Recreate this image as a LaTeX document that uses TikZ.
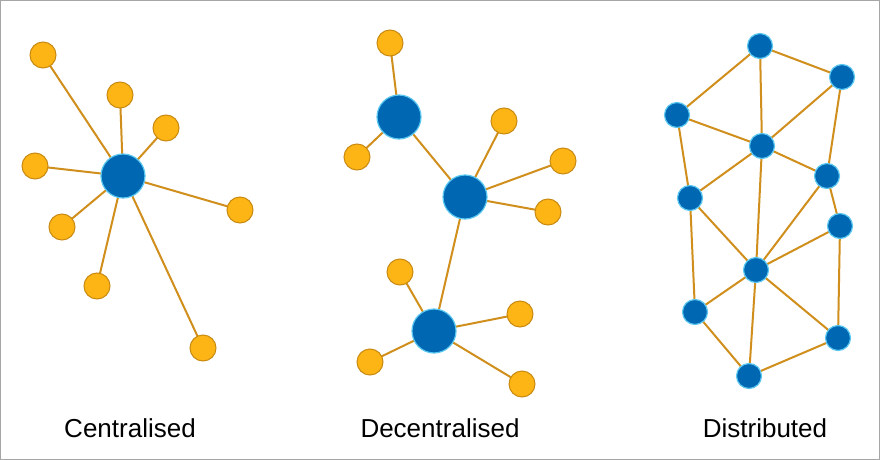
\documentclass[tikz,border=0pt]{standalone}
\usepackage{fontspec}
\setmainfont{Liberation Sans}
\definecolor{leaforange}{HTML}{FDB515}
\definecolor{leafedge}{HTML}{C98A12}
\definecolor{hubblue}{HTML}{0068B3}
\definecolor{hubedge}{HTML}{5CC8F2}
\definecolor{linkline}{HTML}{D08F1C}
\tikzset{
  leaf/.style={circle, fill=leaforange, draw=leafedge, line width=1pt, minimum size=26pt, inner sep=0pt},
  hub/.style={circle, fill=hubblue, draw=hubedge, line width=1.2pt, minimum size=44pt, inner sep=0pt},
  peer/.style={circle, fill=hubblue, draw=hubedge, line width=1.2pt, minimum size=25pt, inner sep=0pt},
  link/.style={draw=linkline, line width=2pt},
  caption/.style={font=\fontsize{26}{30}\selectfont}
}
\begin{document}
\begin{tikzpicture}[x=1pt,y=-1pt]
    \draw[gray!70, fill=white, line width=1pt] (0.5,0.5) rectangle (879.5,459.5);
    % centralised
    \coordinate (c0) at (123,176);
    \foreach \n/\x/\y in {1/43/55, 2/120/95, 3/166/128, 4/35/166, 5/240/210, 6/62/227, 7/97/286, 8/203/348} {
      \coordinate (c\n) at (\x,\y);
      \draw[link] (c0) -- (c\n);
      \node[leaf] at (c\n) {};
    }
    \node[hub] (hub) at (c0) {};
    % decentralised
    \coordinate (d1) at (399,117);
    \coordinate (d2) at (465,197);
    \coordinate (d3) at (434,331);
    \draw[link] (d1) -- (d2) -- (d3);
    \foreach \h/\n/\x/\y in {d1/1/390/43, d1/2/357/157, d2/3/504/121, d2/4/563/161, d2/5/548/212,
      d3/6/400/272, d3/7/520/314, d3/8/370/362, d3/9/522/384} {
      \coordinate (l\n) at (\x,\y);
      \draw[link] (\h) -- (l\n);
      \node[leaf] at (l\n) {};
    }
    \foreach \h in {d1,d2,d3} { \node[hub] at (\h) {}; }
    % distributed
    \foreach \p/\x/\y in {pa/760/46, pb/842/77, pc/677/115, pd/762/146, pe/827/176, pf/690/198,
      pg/840/226, ph/756/270, pi/695/312, pj/838/338, pk/749/376} {
      \coordinate (\p) at (\x,\y);
    }
    \foreach \a/\b in {pa/pb, pa/pc, pa/pd, pb/pd, pb/pe, pc/pd, pc/pf, pd/pf, pd/pe, pd/ph,
      pe/pg, pe/ph, pf/ph, pf/pi, pg/ph, pg/pj, ph/pi, ph/pj, ph/pk, pi/pk, pj/pk} {
      \draw[link] (\a) -- (\b);
    }
    \foreach \p in {pa,pb,pc,pd,pe,pf,pg,ph,pi,pj,pk} { \node[peer] at (\p) {}; }
    \node[caption] (t1) at (130,428) {Centralised};
    \node[caption] (t2) at (440,428) {Decentralised};
    \node[caption] (t3) at (765,428) {Distributed};
\end{tikzpicture}
\end{document}
